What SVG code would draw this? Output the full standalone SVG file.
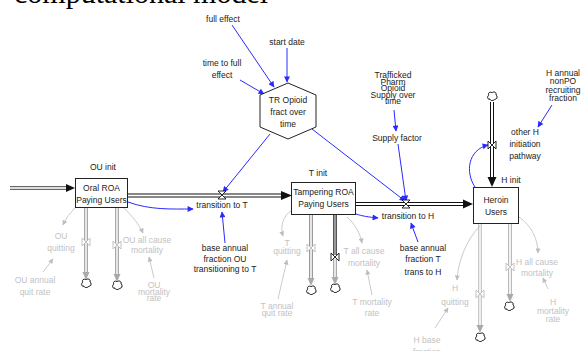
<svg xmlns="http://www.w3.org/2000/svg" width="581" height="351" viewBox="0 0 581 351">
<style>
text{font-family:"Liberation Sans",Arial,sans-serif;font-size:8.5px;text-anchor:middle;fill:#222}
.g{fill:#c2c2c2}
.title{font-family:"Liberation Serif","Times New Roman",serif;font-size:30px;text-anchor:start;fill:#000}
.box{fill:#fff;stroke:#222;stroke-width:1}
.blue{fill:none;stroke:#2a2aff;stroke-width:1}
.gc{fill:none;stroke:#bdbdbd;stroke-width:0.8}
.fo{stroke:#111;stroke-width:4;fill:none}
.fi{stroke:#fff;stroke-width:2;fill:none}
.go{stroke:#a9a9a9;stroke-width:4;fill:none}
.gi{stroke:#e6e6e6;stroke-width:2;fill:none}
.valve{fill:#fff;stroke:#111;stroke-width:0.9}
.gvalve{fill:#fff;stroke:#bbb;stroke-width:0.9}
.cloud{fill:#fff;stroke:#111;stroke-width:1}
</style>
<defs>
<marker id="ab" viewBox="0 0 10 10" refX="9" refY="5" markerWidth="7" markerHeight="6" orient="auto" markerUnits="userSpaceOnUse"><path d="M0,0 L10,5 L0,10 z" fill="#2a2aff"/></marker>
<marker id="ag" viewBox="0 0 10 10" refX="9" refY="5" markerWidth="6" markerHeight="5" orient="auto" markerUnits="userSpaceOnUse"><path d="M0,0 L10,5 L0,10 z" fill="#bdbdbd"/></marker>
<path id="cl" d="M-3,-2 C-5,-4 -1,-6 0,-4 C1,-6 5,-5 4,-2 C6,-1 5,3 3,2 C2,4 -2,4 -2,2 C-5,3 -5,-1 -3,-2 z"/>
</defs>

<text class="title" x="14" y="2.5">computational model</text>

<g id="connectors">
  <!-- flows -->
  <line class="go" x1="10" y1="188" x2="68" y2="188" style="stroke:#666"/>
  <line class="fi" x1="10" y1="188" x2="68" y2="188" style="stroke:#ddd"/>
  <path d="M66,184 L75,188 L66,192 z" fill="#111"/>

  <line class="fo" x1="127" y1="195.5" x2="283" y2="195.5"/>
  <line class="fi" x1="127" y1="195.5" x2="283" y2="195.5"/>
  <path d="M281,191 L292,195.5 L281,200 z" fill="#111"/>

  <line class="fo" x1="356" y1="204" x2="465" y2="204"/>
  <line class="fi" x1="356" y1="204" x2="465" y2="204"/>
  <path d="M463,199.5 L473,204 L463,208.5 z" fill="#111"/>

  <line class="fo" x1="492" y1="102" x2="492" y2="179"/>
  <line class="fi" x1="492" y1="102" x2="492" y2="179"/>
  <path d="M487.5,177 L492,187 L496.5,177 z" fill="#111"/>

  <!-- gray outflows -->
  <line class="go" x1="86" y1="208" x2="86" y2="274"/>
  <line class="gi" x1="86" y1="208" x2="86" y2="274"/>
  <path d="M82.5,272 L86,280 L89.5,272 z" fill="#aaa"/>
  <line class="go" x1="117" y1="208" x2="117" y2="276"/>
  <line class="gi" x1="117" y1="208" x2="117" y2="276"/>
  <path d="M113.5,274 L117,282 L120.5,274 z" fill="#aaa"/>

  <line class="go" x1="311" y1="214" x2="311" y2="280" style="stroke:#999"/>
  <line class="gi" x1="311" y1="214" x2="311" y2="280"/>
  <path d="M307.5,278 L311,286 L314.5,278 z" fill="#aaa"/>
  <line class="go" x1="335" y1="214" x2="335" y2="255" style="stroke:#555"/>
  <line class="gi" x1="335" y1="214" x2="335" y2="255" style="stroke:#999"/>
  <line class="go" x1="335" y1="258" x2="335" y2="278"/>
  <line class="gi" x1="335" y1="258" x2="335" y2="278"/>
  <path d="M331.5,277 L335,285 L338.5,277 z" fill="#aaa"/>

  <line class="go" x1="480" y1="223" x2="480" y2="326" style="stroke:#c8c8c8"/>
  <line class="gi" x1="480" y1="223" x2="480" y2="326" style="stroke:#eee"/>
  <path d="M476.5,325 L480,333 L483.5,325 z" fill="#aaa"/>
  <line class="go" x1="510" y1="223" x2="510" y2="295" style="stroke:#bbb"/>
  <line class="gi" x1="510" y1="223" x2="510" y2="295" style="stroke:#f2f2f2"/>
  <path d="M506.5,294 L510,302 L513.5,294 z" fill="#aaa"/>

  <!-- blue connectors -->
  <line class="blue" x1="232" y1="25" x2="274" y2="87" marker-end="url(#ab)"/>
  <line class="blue" x1="287" y1="48" x2="287" y2="82" marker-end="url(#ab)"/>
  <line class="blue" x1="240" y1="80" x2="264" y2="94" marker-end="url(#ab)"/>
  <line class="blue" x1="270" y1="134" x2="223" y2="192" marker-end="url(#ab)"/>
  <line class="blue" x1="312" y1="129" x2="405" y2="201" marker-end="url(#ab)"/>
  <line class="blue" x1="394" y1="110" x2="396" y2="131" marker-end="url(#ab)"/>
  <line class="blue" x1="398" y1="144" x2="406" y2="201" marker-end="url(#ab)"/>
  <line class="blue" x1="552" y1="105" x2="538" y2="127" marker-end="url(#ab)"/>
  <path class="blue" d="M475,187 C465,172 468,150 488,145" marker-end="url(#ab)"/>
  <path class="blue" d="M128,202 C150,210 170,209 193,209" marker-end="url(#ab)"/>
  <path class="blue" d="M356,214 C362,216 368,217 378,218" marker-end="url(#ab)"/>
  <line class="blue" x1="225" y1="243" x2="222" y2="212" marker-end="url(#ab)"/>
  <line class="blue" x1="418" y1="242" x2="411" y2="223" marker-end="url(#ab)"/>

  <!-- gray connectors -->
  <path class="gc" d="M76,207 C70,213 66,218 63,225" marker-end="url(#ag)"/>
  <line class="gc" x1="43" y1="272" x2="53" y2="259" marker-end="url(#ag)"/>
  <path class="gc" d="M124,208 C132,216 139,224 143,233" marker-end="url(#ag)"/>
  <line class="gc" x1="154" y1="278" x2="149" y2="257" marker-end="url(#ag)"/>

  <path class="gc" d="M292,210 C283,216 280,226 283,236" marker-end="url(#ag)"/>
  <line class="gc" x1="278" y1="299" x2="287" y2="260" marker-end="url(#ag)"/>
  <path class="gc" d="M347,217 C355,224 360,233 362,243" marker-end="url(#ag)"/>
  <line class="gc" x1="372" y1="295" x2="367" y2="270" marker-end="url(#ag)"/>

  <path class="gc" d="M480,226 C466,240 458,262 457,280" marker-end="url(#ag)"/>
  <line class="gc" x1="435" y1="328" x2="448" y2="308" marker-end="url(#ag)"/>
  <path class="gc" d="M519,217 C532,226 538,240 538,253" marker-end="url(#ag)"/>
  <line class="gc" x1="548" y1="289" x2="543" y2="278" marker-end="url(#ag)"/>
</g>

<g id="valves">
  <path class="valve" d="M218,191 L226,191 L218,199 L226,199 z"/>
  <path class="valve" d="M402,200 L410,200 L402,208 L410,208 z"/>
  <path class="valve" d="M488,141 L488,149 L496,141 L496,149 z"/>
  <path class="gvalve" d="M82,238 L82,246 L90,238 L90,246 z"/>
  <path class="gvalve" d="M113,241 L113,249 L121,241 L121,249 z"/>
  <path class="gvalve" d="M307,244 L307,252 L315,244 L315,252 z"/>
  <path class="valve" d="M331,253 L331,261 L339,253 L339,261 z"/>
  <path class="gvalve" d="M476,290 L476,298 L484,290 L484,298 z"/>
  <path class="gvalve" d="M506,263 L506,271 L514,263 L514,271 z"/>
</g>

<g id="clouds">
  <use href="#cl" class="cloud" x="492" y="97"/>
  <use href="#cl" class="cloud" x="86" y="284"/>
  <use href="#cl" class="cloud" x="117" y="286"/>
  <use href="#cl" class="cloud" x="311" y="291"/>
  <use href="#cl" class="cloud" x="335" y="289"/>
  <use href="#cl" class="cloud" x="480" y="338"/>
  <use href="#cl" class="cloud" x="509" y="307"/>
</g>

<g id="oral-roa">
  <rect class="box" x="75.5" y="178.5" width="52" height="29"/>
  <text x="101.5" y="190.5">Oral ROA</text>
  <text x="101.5" y="202.5">Paying Users</text>
  <text x="103" y="170">OU init</text>
</g>
<g id="tampering-roa">
  <rect class="box" x="291.5" y="182.5" width="64" height="32"/>
  <text x="323.5" y="195">Tampering ROA</text>
  <text x="323.5" y="207">Paying Users</text>
  <text x="318" y="175.5">T init</text>
</g>
<g id="heroin">
  <rect class="box" x="473.5" y="187.5" width="45" height="36"/>
  <text x="496" y="203">Heroin</text>
  <text x="496" y="215">Users</text>
  <text x="511" y="183">H init</text>
</g>
<g id="tr-opioid">
  <polygon class="box" points="288,83 316,95 316,127 288,139 260,127 260,95"/>
  <text x="288" y="103">TR Opioid</text>
  <text x="288" y="115">fract over</text>
  <text x="288" y="127">time</text>
</g>
<g id="full-effect"><text x="223" y="22">full effect</text></g>
<g id="start-date"><text x="287" y="44.5">start date</text></g>
<g id="time-to-full-effect"><text x="222" y="66">time to full</text><text x="222" y="78">effect</text></g>
<g id="transition-to-t"><text x="222" y="208">transition to T</text></g>
<g id="transition-to-h"><text x="408" y="218.5">transition to H</text></g>
<g id="base-ou-t"><text x="225" y="251">base annual</text><text x="225" y="261.5">fraction OU</text><text x="225" y="272">transitioning to T</text></g>
<g id="base-t-h"><text x="423" y="250.5">base annual</text><text x="423" y="262">fraction T</text><text x="423" y="274.5">trans to H</text></g>
<g id="trafficked"><text x="393" y="78">Trafficked</text><text x="393" y="84.5">Pharm</text><text x="393" y="91">Opioid</text><text x="393" y="97.5">Supply over</text><text x="393" y="104">time</text></g>
<g id="supply-factor"><text x="397" y="141">Supply factor</text></g>
<g id="h-annual"><text x="563" y="75.5">H annual</text><text x="563" y="84">nonPO</text><text x="563" y="92.5">recruiting</text><text x="563" y="101">fraction</text></g>
<g id="other-h"><text x="525" y="135">other H</text><text x="525" y="147">initiation</text><text x="525" y="159">pathway</text></g>

<g id="ou-quitting"><text class="g" x="61" y="239">OU</text><text class="g" x="61" y="251">quitting</text></g>
<g id="ou-annual"><text class="g" x="35" y="283">OU annual</text><text class="g" x="35" y="294.5">quit rate</text></g>
<g id="ou-acm"><text class="g" x="147" y="243">OU all cause</text><text class="g" x="147" y="253">mortality</text></g>
<g id="ou-mort"><text class="g" x="154" y="288">OU</text><text class="g" x="154" y="294.5">mortality</text><text class="g" x="154" y="301">rate</text></g>
<g id="t-quitting"><text class="g" x="287" y="246">T</text><text class="g" x="287" y="254">quitting</text></g>
<g id="t-annual"><text class="g" x="277" y="309">T annual</text><text class="g" x="277" y="316">quit rate</text></g>
<g id="t-acm"><text class="g" x="364" y="254">T all cause</text><text class="g" x="364" y="265.5">mortality</text></g>
<g id="t-mort"><text class="g" x="372" y="304.5">T mortality</text><text class="g" x="372" y="316">rate</text></g>
<g id="h-quitting"><text class="g" x="455" y="291">H</text><text class="g" x="455" y="304.5">quitting</text></g>
<g id="h-base"><text class="g" x="427" y="343">H base</text><text class="g" x="427" y="355">fraction</text></g>
<g id="h-acm"><text class="g" x="537" y="264.5">H all cause</text><text class="g" x="537" y="275.5">mortality</text></g>
<g id="h-mort"><text class="g" x="553" y="304.5">H</text><text class="g" x="553" y="313.5">mortality</text><text class="g" x="553" y="322">rate</text></g>
</svg>
